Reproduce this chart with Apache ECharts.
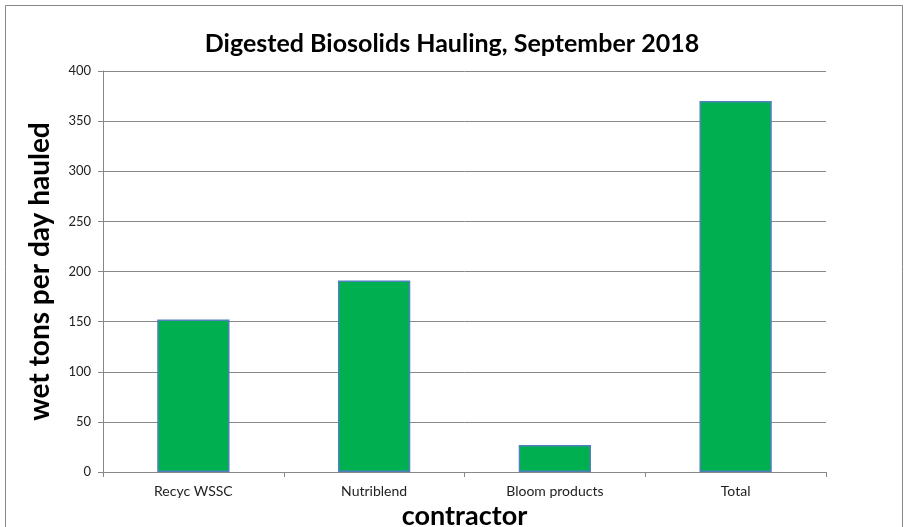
<!DOCTYPE html>
<html><head><meta charset="utf-8">
<script src="https://cdn.jsdelivr.net/npm/echarts@6/dist/echarts.min.js"></script>
<style>html,body{margin:0;padding:0;background:#fff}#c{width:904px;height:527px}</style>
</head><body><div id="c"></div>
<script>
const categories = ['Recyc WSSC', 'Nutriblend', 'Bloom products', 'Total'];
const values = [152, 191, 27, 370];
const yTicks = [0, 50, 100, 150, 200, 250, 300, 350, 400];

const chart = echarts.init(document.getElementById('c'));
chart.setOption({
  animation: false,
  backgroundColor: '#fff',
  graphic: [{type: 'rect', shape: {x: 5.5, y: 5.5, width: 897, height: 540}, style: {fill: 'none', stroke: '#888', lineWidth: 1}, silent: true}],
  title: {text: 'Digested Biosolids Hauling, September 2018', left: 'center', top: 26,
    textStyle: {fontFamily: 'Lato', fontWeight: 'bold', fontSize: 25, color: '#000'}},
  grid: {left: 103, right: 78, top: 71, bottom: 55, containLabel: false, outerBoundsMode: 'none'},
  xAxis: {type: 'category', data: categories, name: 'contractor', nameLocation: 'middle', nameGap: 25,
    nameTextStyle: {fontFamily: 'Lato', fontWeight: 'bold', fontSize: 27, color: '#000'},
    axisLine: {lineStyle: {color: '#888'}}, axisTick: {show: true, lineStyle: {color: '#888'}, length: 5},
    axisLabel: {fontFamily: 'Lato', fontSize: 14, color: '#222', margin: 12}},
  yAxis: {type: 'value', min: yTicks[0], max: yTicks[yTicks.length - 1], interval: 50,
    name: 'wet tons per day hauled', nameLocation: 'middle', nameGap: 49,
    nameTextStyle: {fontFamily: 'Lato', fontWeight: 'bold', fontSize: 28, color: '#000'},
    axisLine: {show: true, lineStyle: {color: '#888'}}, axisTick: {show: true, lineStyle: {color: '#888'}, length: 5},
    axisLabel: {fontFamily: 'Lato', fontSize: 13, color: '#222', margin: 12},
    splitLine: {lineStyle: {color: '#888', width: 1}}},
  series: [{type: 'bar', data: values, barWidth: '40%',
    itemStyle: {color: '#00B050', borderColor: '#4F81BD', borderWidth: 1.5}}]
});
</script></body></html>
